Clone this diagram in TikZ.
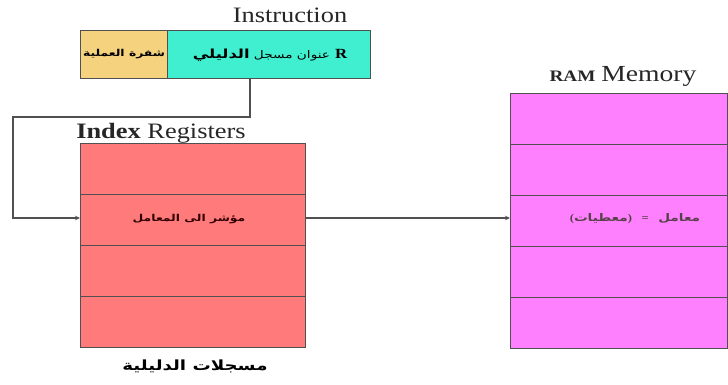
\documentclass[tikz,border=0pt]{standalone}
\usepackage{fontspec}
\setmainfont{Liberation Serif}[FakeStretch=1.2]
\newfontfamily\arabicfont[Script=Arabic,FakeStretch=1.3]{DejaVu Sans}
\TeXXeTstate=1
\usetikzlibrary{arrows.meta}
\definecolor{opc}{HTML}{F5D27E}
\definecolor{cyanbox}{HTML}{3FEFCF}
\definecolor{redbox}{HTML}{FF7B7B}
\definecolor{magbox}{HTML}{FF80FF}
\definecolor{linec}{HTML}{505050}
\tikzset{
  cell/.style={draw=linec, line width=1.1pt, inner sep=0pt, anchor=north west},
  conn/.style={draw=linec, line width=1.2pt, -{Stealth[length=5pt,width=4.5pt]}},
  title/.style={inner sep=0pt, text=black!85},
  ar/.style={inner sep=0pt, font=\arabicfont}
}
\begin{document}
\begin{tikzpicture}[x=1pt,y=-1pt]
\useasboundingbox (0,0) rectangle (728,385);
% instruction
\node[title, font=\fontsize{22}{24}\selectfont] (instr) at (290,15) {Instruction};
\node[cell, fill=opc, minimum width=87pt, minimum height=48pt] (opcode) at (80,30) {};
\node[cell, fill=cyanbox, minimum width=203pt, minimum height=48pt] (addr) at (167,30) {};
\node[ar, font=\arabicfont\fontsize{9.5}{11}\selectfont\bfseries] (opctext) at (opcode.center) {\beginR شفرة العملية\endR};
\node[inner sep=0pt] (addrtext) at (270,55) {{\arabicfont\fontsize{10.5}{12}\selectfont\beginR عنوان مسجل {\fontsize{12.5}{14}\selectfont\bfseries الدليلي}\endR}\hspace{5pt}{\fontsize{14}{16}\selectfont\bfseries R}};
% index registers
\node[title, font=\fontsize{22}{24}\selectfont] (idxtitle) at (161,133) {\textbf{Index} Registers};
\foreach \i/\y in {1/143,2/194,3/245,4/296}{
  \node[cell, fill=redbox, minimum width=225pt, minimum height=51pt] (r\i) at (80,\y) {};
}
\node[ar, font=\arabicfont\fontsize{9.5}{11}\selectfont\bfseries, text=black!80!red] (ptr) at (189,219) {\beginR مؤشر الى المعامل\endR};
\node[ar, font=\arabicfont\fontsize{14}{16}\selectfont\bfseries] (idxlabel) at (195,366) {\beginR مسجلات الدليلية\endR};
% RAM
\node[title] (ramtitle) at (623,76) {{\fontsize{16}{18}\selectfont\bfseries RAM}\hspace{6pt}{\fontsize{23}{25}\selectfont Memory}};
\foreach \i/\y in {1/93,2/144,3/195,4/246,5/297}{
  \node[cell, fill=magbox, minimum width=217pt, minimum height=51pt] (m\i) at (510,\y) {};
}
\node[inner sep=0pt, font=\arabicfont\fontsize{10.5}{12}\selectfont\bfseries, text=black!75!magenta] (operand) at (635,219) {{\rmfamily\bfseries(}\beginR معطيات\endR{\rmfamily\bfseries)}\ \ {\rmfamily\bfseries=}\ \ \beginR معامل\endR};
% connectors
\coordinate (c1) at (250,117);
\coordinate (c2) at (13,117);
\coordinate (c3) at (13,218);
\draw[conn] (addr.south -| c1) -- (c1) -- (c2) -- (c3) -- (c3 -| r2.west);
\draw[conn] (r2.east |- c3) -- (c3 -| m3.west);
\end{tikzpicture}
\end{document}
